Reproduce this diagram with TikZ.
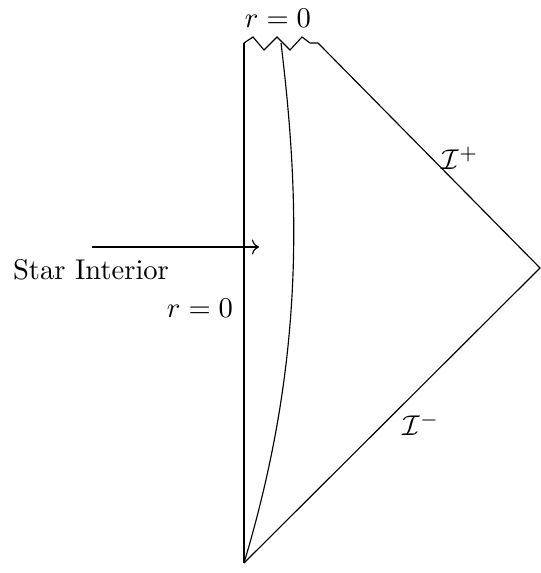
\documentclass[tikz,border=0pt]{standalone}
\usetikzlibrary{arrows.meta}
\begin{document}
\begin{tikzpicture}[x=0.35pt,y=-0.35pt,
  lbl/.style={inner sep=0pt,anchor=center}]
\useasboundingbox (0,0) rectangle (540,573);
% key points
\coordinate (b) at (244,563);
\coordinate (tl) at (244,43);
\coordinate (tr) at (318,43);
\coordinate (ri) at (540,268);
\coordinate (st) at (281,43);
% left edge r=0
\draw (b) -- (tl);
% singularity zigzag
\draw (tl) -- (253,37) -- (264,50) -- (277,37) -- (290,50) -- (302,37) -- (310,43) -- (tr);
% null infinities
\draw (tr) -- (ri) -- (b);
% star surface
\draw (st) .. controls (300,200) and (305,360) .. (b);
% labels
\node[lbl] (rtop) at (278,18) {$r=0$};
\node[lbl] (rleft) at (200,308) {$r=0$};
\node[lbl] (star) at (91,270) {Star Interior};
\node[lbl] (ip) at (460,158) {$\mathcal{I}^+$};
\node[lbl] (im) at (421,424) {$\mathcal{I}^-$};
% arrow
\coordinate (as) at (92,247);
\coordinate (ae) at (259,247);
\draw[->] (as) -- (ae);
\end{tikzpicture}
\end{document}
